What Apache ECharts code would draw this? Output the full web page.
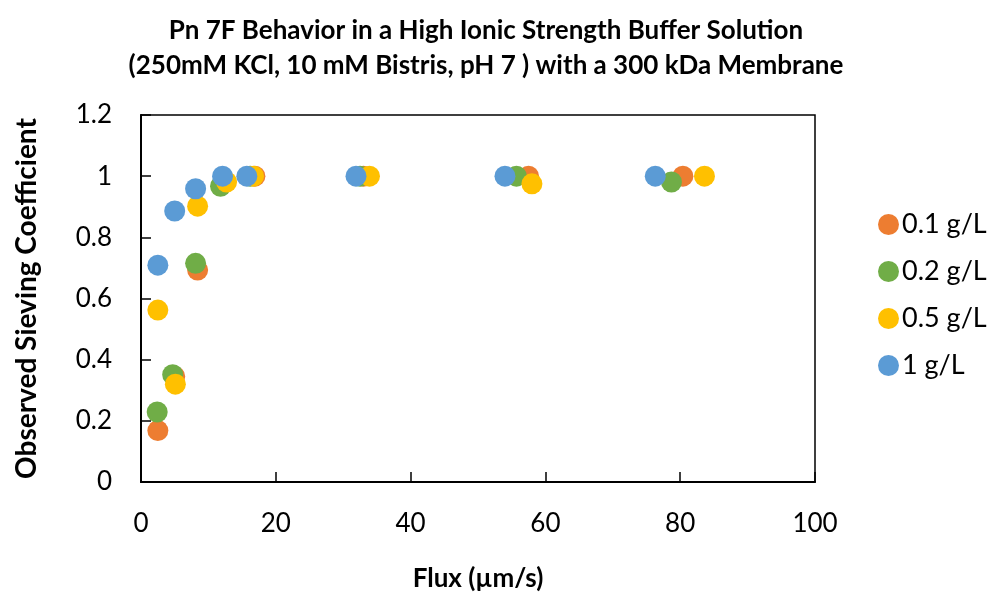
<!DOCTYPE html>
<html>
<head>
<meta charset="utf-8">
<script src="https://cdn.jsdelivr.net/npm/echarts@6/dist/echarts.min.js"></script>
<style>
  html, body { margin: 0; padding: 0; background: #fff; }
  #chart { width: 994px; height: 597px; }
</style>
</head>
<body>
<div id="chart"></div>
<script>
  // values: [flux µm/s, observed sieving coefficient]
  const conc01 = [[2.5, 0.168], [5.0, 0.345], [8.4, 0.693], [16.9, 1.0], [33.0, 1.0], [57.5, 1.0], [80.4, 1.0]];
  const conc02 = [[2.4, 0.229], [4.7, 0.351], [8.1, 0.715], [11.8, 0.967], [16.2, 1.0], [32.5, 1.0], [55.7, 1.0], [78.7, 0.981]];
  const conc05 = [[2.5, 0.562], [5.1, 0.320], [8.4, 0.902], [12.7, 0.981], [16.7, 1.0], [33.9, 1.0], [58.0, 0.975], [83.6, 1.0]];
  const conc1 = [[2.5, 0.709], [5.0, 0.886], [8.1, 0.959], [12.1, 1.0], [15.7, 1.0], [31.9, 1.0], [54.0, 1.0], [76.3, 1.0]];

  const seriesNames = ['0.1 g/L', '0.2 g/L', '0.5 g/L', '1 g/L'];
  const seriesColors = ['#ED7D31', '#70AD47', '#FFC000', '#5B9BD5'];
  const seriesData = [conc01, conc02, conc05, conc1];

  const FONT = 'Lato, "Open Sans", sans-serif';
  const chart = echarts.init(document.getElementById('chart'), null, { renderer: 'canvas' });

  chart.setOption({
    backgroundColor: '#fff',
    animation: false,
    title: {
      text: 'Pn 7F Behavior in a High Ionic Strength Buffer Solution\n(250mM KCl, 10 mM Bistris, pH 7 ) with a 300 kDa Membrane',
      left: 481, top: 8, textAlign: 'center',
      textStyle: { fontFamily: FONT, fontWeight: 'bold', fontSize: 26, lineHeight: 35, color: '#000' }
    },
    grid: { left: 141, top: 115, right: 179, bottom: 113, show: true, borderColor: '#000', borderWidth: 1.5, backgroundColor: 'transparent' },
    legend: {
      orient: 'vertical', left: 873, top: 206, itemGap: 20, itemWidth: 21, itemHeight: 21,
      icon: 'circle',
      data: seriesNames,
      textStyle: { fontFamily: FONT, fontSize: 27, color: '#000', padding: [0, 0, 0, -2] }
    },
    xAxis: {
      type: 'value', min: 0, max: 100, interval: 20,
      name: 'Flux (µm/s)', nameLocation: 'middle', nameGap: 84,
      nameTextStyle: { fontFamily: FONT, fontWeight: 'bold', fontSize: 26, color: '#000' },
      axisLine: { show: true, lineStyle: { color: '#000', width: 2 } },
      axisTick: { show: true, inside: true, length: 10, lineStyle: { color: '#000', width: 1.5 } },
      axisLabel: { fontFamily: FONT, fontSize: 26, color: '#000', margin: 29 },
      splitLine: { show: false }
    },
    yAxis: {
      type: 'value', min: 0, max: 1.2, interval: 0.2,
      name: 'Observed Sieving Coefficient', nameLocation: 'middle', nameGap: 100, nameRotate: 90,
      nameTextStyle: { fontFamily: FONT, fontWeight: 'bold', fontSize: 28, color: '#000' },
      axisLine: { show: true, lineStyle: { color: '#000', width: 2 } },
      axisTick: { show: true, inside: true, length: 10, lineStyle: { color: '#000', width: 1.5 } },
      axisLabel: { fontFamily: FONT, fontSize: 26, color: '#000', margin: 29, formatter: v => String(+v.toFixed(1)) },
      splitLine: { show: false }
    },
    series: seriesData.map((d, i) => ({
      name: seriesNames[i], type: 'scatter', data: d,
      symbol: 'circle', symbolSize: 21,
      itemStyle: { color: seriesColors[i], opacity: 1 }
    }))
  });
</script>
</body>
</html>
